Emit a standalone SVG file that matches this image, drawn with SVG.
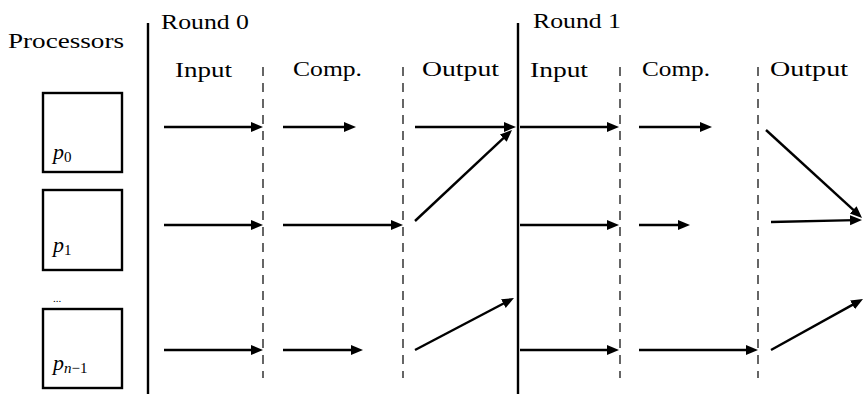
<svg xmlns="http://www.w3.org/2000/svg" width="863" height="394" viewBox="0 0 863 394">
<defs>
<marker id="ah" markerUnits="userSpaceOnUse" markerWidth="13" markerHeight="11" refX="5" refY="5" orient="auto">
<path d="M0,0 L12,5 L0,10 z" fill="#000"/>
</marker>
<style>
.t{font-family:"Liberation Serif","DejaVu Serif",serif;font-size:21px;fill:#000}
.m{font-family:"Liberation Serif","DejaVu Serif",serif;font-style:italic;font-size:22px;fill:#000}
.s{font-style:normal;font-size:15px}
.si{font-size:15px}
.box{fill:#fff;stroke:#000;stroke-width:2.4}
.sep{stroke:#000;stroke-width:2.4;fill:none}
.dash{stroke:#000;stroke-width:1.2;stroke-dasharray:9 7;fill:none}
.a{stroke:#000;stroke-width:2.4;fill:none;marker-end:url(#ah)}
</style>
</defs>
<g id="headers">
<text class="t" x="8" y="48" textLength="116" lengthAdjust="spacingAndGlyphs">Processors</text>
<text class="t" x="161" y="29" textLength="88" lengthAdjust="spacingAndGlyphs">Round 0</text>
<text class="t" x="533" y="28" textLength="88" lengthAdjust="spacingAndGlyphs">Round 1</text>
<text class="t" x="175" y="77" textLength="57" lengthAdjust="spacingAndGlyphs">Input</text>
<text class="t" x="293" y="76" textLength="69" lengthAdjust="spacingAndGlyphs">Comp.</text>
<text class="t" x="422" y="76" textLength="77" lengthAdjust="spacingAndGlyphs">Output</text>
<text class="t" x="530" y="77" textLength="58" lengthAdjust="spacingAndGlyphs">Input</text>
<text class="t" x="642" y="76" textLength="68" lengthAdjust="spacingAndGlyphs">Comp.</text>
<text class="t" x="770" y="76" textLength="78" lengthAdjust="spacingAndGlyphs">Output</text>
</g>
<g id="p0">
<rect class="box" x="43" y="93" width="79" height="79"/>
<text class="m" x="53" y="159">p<tspan class="s" dy="3">0</tspan></text>
</g>
<g id="p1">
<rect class="box" x="43" y="190" width="79" height="80"/>
<text class="m" x="53" y="252">p<tspan class="s" dy="3">1</tspan></text>
</g>
<g id="dots">
<text class="t" x="53" y="302" style="font-size:11px">...</text>
</g>
<g id="pn1">
<rect class="box" x="43" y="309" width="79" height="79"/>
<text class="m" x="53" y="370">p<tspan class="si" dy="3">n</tspan><tspan class="s">−1</tspan></text>
</g>
<g id="separators">
<line class="sep" x1="148" y1="23" x2="148" y2="394"/>
<line class="sep" x1="518" y1="23" x2="518" y2="394"/>
<line class="dash" x1="263" y1="67" x2="263" y2="378"/>
<line class="dash" x1="403" y1="67" x2="403" y2="378"/>
<line class="dash" x1="620" y1="67" x2="620" y2="378"/>
<line class="dash" x1="758" y1="67" x2="758" y2="378"/>
</g>
<g id="connectors">
<line class="a" x1="164" y1="127" x2="256" y2="127"/>
<line class="a" x1="283" y1="127" x2="349" y2="127"/>
<line class="a" x1="415" y1="127" x2="509" y2="127"/>
<line class="a" x1="520" y1="127" x2="612" y2="127"/>
<line class="a" x1="639" y1="127" x2="705" y2="127"/>
<line class="a" x1="766" y1="130" x2="856.9" y2="213.2"/>
<line class="a" x1="164" y1="225" x2="256" y2="225"/>
<line class="a" x1="283" y1="225" x2="396" y2="225"/>
<line class="a" x1="415" y1="221" x2="506.9" y2="134.8"/>
<line class="a" x1="520" y1="225" x2="612" y2="225"/>
<line class="a" x1="639" y1="225" x2="683" y2="225"/>
<line class="a" x1="771" y1="222" x2="855" y2="220.1"/>
<line class="a" x1="164" y1="350" x2="256" y2="350"/>
<line class="a" x1="283" y1="350" x2="356" y2="350"/>
<line class="a" x1="415" y1="350" x2="507.8" y2="301.3"/>
<line class="a" x1="520" y1="350" x2="612" y2="350"/>
<line class="a" x1="639" y1="350" x2="751" y2="350"/>
<line class="a" x1="771" y1="350" x2="856.9" y2="302.4"/>
</g>
</svg>
